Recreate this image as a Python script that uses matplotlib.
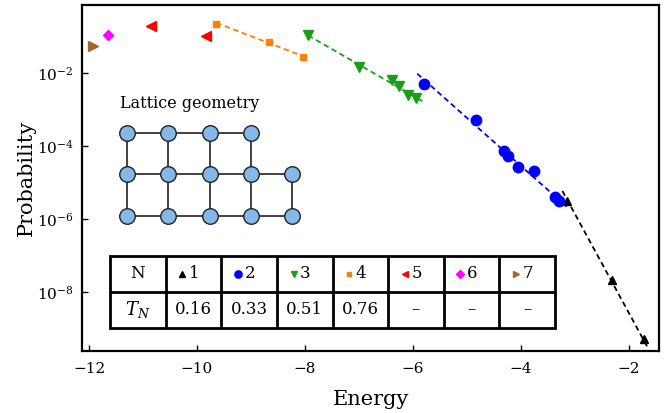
import numpy as np
import matplotlib
matplotlib.use("Agg")
import matplotlib.pyplot as plt
from matplotlib.patches import Rectangle

plt.rcParams['font.family'] = ['DejaVu Serif']
plt.rcParams['mathtext.fontset'] = 'dejavuserif'

# energies and probabilities, one list per N
energy = {
    1: [-3.15, -2.32, -1.72],
    2: [-5.79, -4.83, -4.31, -4.23, -4.06, -3.76, -3.37, -3.29],
    3: [-7.94, -7.00, -6.39, -6.25, -6.09, -5.94],
    4: [-9.64, -8.66, -8.03],
    5: [-10.85, -9.84],
    6: [-11.64],
    7: [-11.92],
}
prob = {
    1: [3.1e-6, 2.1e-8, 5.0e-10],
    2: [4.9e-3, 5.0e-4, 7.1e-5, 5.2e-5, 2.6e-5, 2.1e-5, 4.0e-6, 3.1e-6],
    3: [0.107, 0.0145, 6.3e-3, 4.4e-3, 2.5e-3, 2.0e-3],
    4: [0.224, 0.071, 0.0275],
    5: [0.19, 0.102],
    6: [0.112],
    7: [0.054],
}
temps = {1: 0.16, 2: 0.33, 3: 0.51, 4: 0.76}
fit_span = {1: (-3.23, -1.66), 2: (-5.92, -3.15), 3: (-7.94, -5.82), 4: (-9.64, -8.03)}

colors = {1: 'black', 2: '#0000ff', 3: '#1a9e1a', 4: '#ff7f00',
          5: '#ff0000', 6: '#ff00ff', 7: '#a0662e'}
markers = {1: '^', 2: 'o', 3: 'v', 4: 's', 5: '<', 6: 'D', 7: '>'}
msizes = {1: 6, 2: 7.5, 3: 6.5, 4: 5, 5: 6.5, 6: 5.5, 7: 6.5}

# lattice sites (column, row)
sites = [(0, 2), (1, 2), (2, 2), (3, 2),
         (0, 1), (1, 1), (2, 1), (3, 1), (4, 1),
         (0, 0), (1, 0), (2, 0), (3, 0), (4, 0)]

W, H = 671, 413
fig = plt.figure(figsize=(W / 100, H / 100), dpi=100)
ax = fig.add_axes([82 / W, 1 - 351 / H, (659 - 82) / W, (351 - 4.7) / H])

for n in range(1, 8):
    e = np.array(energy[n])
    p = np.array(prob[n])
    if n in temps:
        # dashed Boltzmann line with slope set by T_N
        slope = -1 / (temps[n] * np.log(10))
        c = np.mean(np.log10(p) - slope * e)
        xs = np.array(fit_span[n])
        ax.plot(xs, 10 ** (c + slope * xs), ls=(0, (3, 2)), lw=1.3,
                color=colors[n], zorder=2)
    ax.plot(e, p, ls='none', marker=markers[n], ms=msizes[n],
            color=colors[n], mec=colors[n], zorder=3)

ax.set_yscale('log')
ax.set_xlim(-12.13, -1.44)
ax.set_ylim(10 ** -9.62, 10 ** -0.13)
ax.set_xticks([-12, -10, -8, -6, -4, -2])
ax.set_yticks([1e-2, 1e-4, 1e-6, 1e-8])
ax.set_yticklabels([r'$10^{-2}$', r'$10^{-4}$', r'$10^{-6}$', r'$10^{-8}$'])
ax.yaxis.set_minor_locator(matplotlib.ticker.NullLocator())
ax.tick_params(direction='in', length=4, width=1, labelsize=11, pad=6)
ax.tick_params(axis='x', pad=8)
for s in ax.spines.values():
    s.set_linewidth(1.6)
ax.set_xlabel('Energy', fontsize=15, labelpad=10)
ax.set_ylabel('Probability', fontsize=15, labelpad=1)

# table of temperatures
tab = fig.add_axes([110 / W, 1 - 328 / H, 445 / W, 72 / H])
tab.set_xlim(0, 8)
tab.set_ylim(0, 2)
tab.axis('off')
tab.add_patch(Rectangle((0, 0), 8, 2, facecolor='white', edgecolor='black',
                        lw=2, clip_on=False))
tab.plot([0, 8], [1, 1], color='black', lw=2)
for i in range(1, 8):
    tab.plot([i, i], [0, 2], color='black', lw=2)
tab.text(0.5, 1.5, 'N', ha='center', va='center', fontsize=12)
tab.text(0.5, 0.5, r'$T_N$', ha='center', va='center', fontsize=13)
for n in range(1, 8):
    tab.plot(n + 0.3, 1.5, marker=markers[n], ms=msizes[n] * 0.7,
             color=colors[n], ls='none', clip_on=False)
    tab.text(n + 0.42, 1.5, str(n), ha='left', va='center', fontsize=12)
    label = f'{temps[n]:.2f}' if n in temps else '–'
    tab.text(n + 0.5, 0.5, label, ha='center', va='center', fontsize=12)

# lattice geometry inset
lat = fig.add_axes([106.4 / W, 1 - 236.7 / H, 206.2 / W, 124.4 / H])
lat.set_xlim(-0.5, 4.5)
lat.set_ylim(-0.5, 2.5)
lat.axis('off')
site_set = set(sites)
for (cx, cy) in sites:
    for (dx, dy) in [(1, 0), (0, 1)]:
        if (cx + dx, cy + dy) in site_set:
            lat.plot([cx, cx + dx], [cy, cy + dy], color='#333333', lw=1.3, zorder=1)
lat.scatter([s[0] for s in sites], [s[1] for s in sites], s=125,
            color='#85b8e6', edgecolor='#222222', lw=1, zorder=2, clip_on=False)
fig.text(120 / W, 1 - 103 / H, 'Lattice geometry', ha='left', va='center', fontsize=11.5)

fig.savefig('out.png', dpi=100)
